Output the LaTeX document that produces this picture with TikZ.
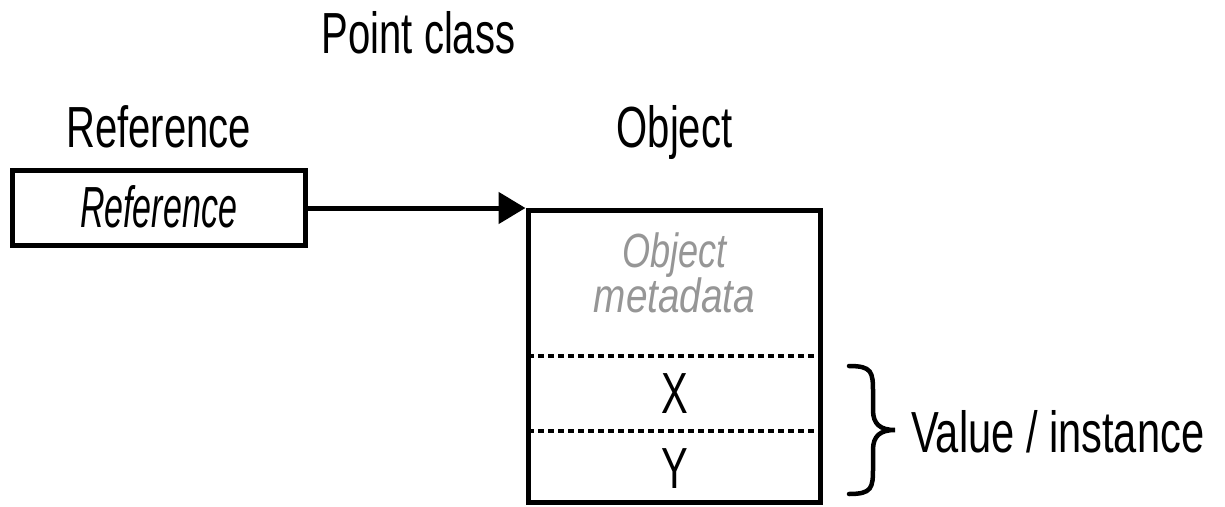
\documentclass[tikz,border=0pt]{standalone}
\usepackage{fontspec}
\setmainfont{Liberation Sans}[FakeStretch=0.69]
\usepackage{graphicx}
\usetikzlibrary{arrows.meta}
\definecolor{metagray}{RGB}{150,150,150}
\begin{document}
\begin{tikzpicture}[x=1pt,y=-1pt,
  lbl/.style={inner sep=0pt, anchor=base, font=\fontsize{58}{58}\selectfont},
  metalbl/.style={inner sep=0pt, anchor=base, text=metagray, font=\fontsize{48}{48}\selectfont\itshape},
  boxshape/.style={draw, line width=5pt, inner sep=0pt, outer sep=0pt, rectangle},
  dotline/.style={line width=4.5pt, dash pattern=on 6pt off 4pt},
  ptr/.style={line width=5pt, -{Triangle[length=27pt,width=31pt]}, shorten >=2.5pt},
  bracepath/.style={line width=4.5pt, line cap=round}]
\useasboundingbox (0,0) rectangle (1225,506);

% titles
\node[lbl] (title) at (418.5,53) {Point class};
\node[lbl] (refhdr) at (158.5,147) {Reference};
\node[lbl] (objhdr) at (674.5,147) {Object};

% reference box
\node[boxshape, minimum width=293pt, minimum height=75pt] (refbox) at (158.5,208) {};
\node[lbl, font=\fontsize{58}{58}\selectfont\itshape] (reftxt) at (158.5,227) {\scalebox{0.85}[1]{Reference}};

% object box
\node[boxshape, minimum width=292pt, minimum height=292pt] (objbox) at (674,356) {};
\node[metalbl] (meta1) at (674.5,267) {\scalebox{1.09}[1]{Object}};
\node[metalbl] (meta2) at (674.5,312) {\scalebox{1.17}[1]{metadata}};

\coordinate (d1l) at (528,356);
\coordinate (d1r) at (820,356);
\coordinate (d2l) at (528,431);
\coordinate (d2r) at (820,431);
\draw[dotline] (d1l) -- (d1r);
\draw[dotline] (d2l) -- (d2r);

\node[lbl] (xval) at (674.5,413) {X};
\node[lbl] (yval) at (674.5,488) {Y};

% pointer
\draw[ptr] (refbox.east) -- (refbox.east -| objbox.west);

% brace
\coordinate (btop) at (849,366);
\coordinate (btip) at (895,430);
\coordinate (bbot) at (849,494);
\draw[bracepath] (btop) .. controls (872,366) and (873,372) .. (873,392)
  -- (873,410) .. controls (873,424) and (880,430) .. (btip)
  .. controls (880,430) and (873,436) .. (873,450)
  -- (873,468) .. controls (873,488) and (872,494) .. (bbot);

\node[lbl, anchor=base west] (valinst) at (911,452) {\scalebox{1.04}[1]{Value / instance}};
\end{tikzpicture}
\end{document}
